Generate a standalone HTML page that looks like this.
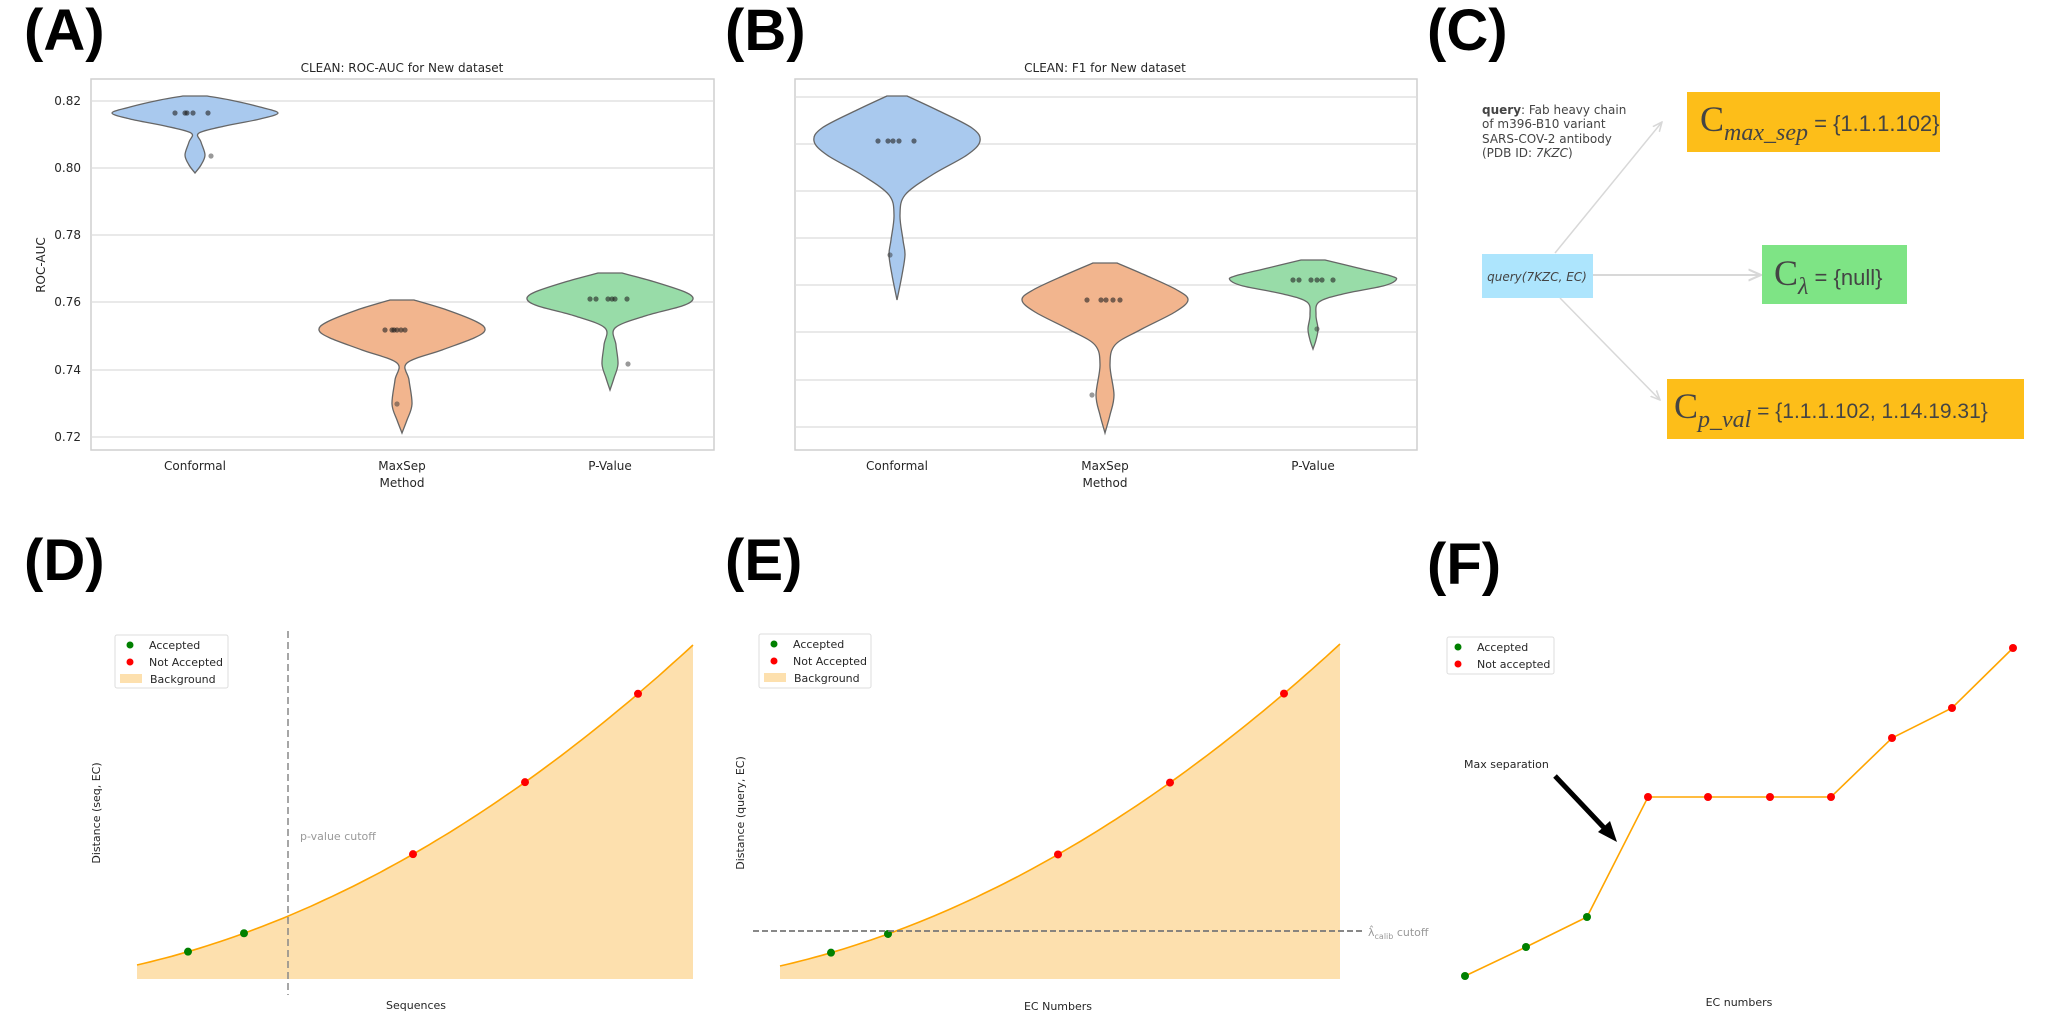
<!DOCTYPE html>
<html><head><meta charset="utf-8">
<style>
html,body{margin:0;padding:0;background:#fff;}
svg{display:block;}
text{font-family:"DejaVu Sans","Liberation Sans",sans-serif;fill:#262626;}
.lab{font-family:"Liberation Sans",sans-serif;font-weight:bold;font-size:58px;fill:#000;}
</style></head>
<body>
<svg id="s" width="2050" height="1012" viewBox="0 0 2050 1012" xmlns="http://www.w3.org/2000/svg">
<defs>
<marker id="ah" viewBox="0 0 10 10" refX="9" refY="5" markerWidth="7" markerHeight="7" orient="auto"><path d="M0,1 L9,5 L0,9" fill="none" stroke="#d8d8d8" stroke-width="1.5"/></marker>
</defs>
<text class="lab" x="24" y="50">(A)</text>
<text class="lab" x="725" y="50">(B)</text>
<text class="lab" x="1427" y="50">(C)</text>
<text class="lab" x="24" y="580">(D)</text>
<text class="lab" x="725" y="580">(E)</text>
<text class="lab" x="1427" y="584">(F)</text>

<g id="A">
<rect x="91" y="79" width="623" height="371" fill="none" stroke="#cfcfcf" stroke-width="1.5"/>
<g stroke="#dcdcdc" stroke-width="1.3">
<line x1="91" x2="714" y1="101" y2="101"/><line x1="91" x2="714" y1="168" y2="168"/>
<line x1="91" x2="714" y1="235" y2="235"/><line x1="91" x2="714" y1="302" y2="302"/>
<line x1="91" x2="714" y1="370" y2="370"/><line x1="91" x2="714" y1="437" y2="437"/>
</g>
<g font-size="12" text-anchor="end">
<text x="81" y="105">0.82</text><text x="81" y="172">0.80</text><text x="81" y="239">0.78</text>
<text x="81" y="306">0.76</text><text x="81" y="374">0.74</text><text x="81" y="441">0.72</text>
</g>
<text x="402" y="72" font-size="12" text-anchor="middle">CLEAN: ROC-AUC for New dataset</text>
<text transform="translate(45,265) rotate(-90)" font-size="12" text-anchor="middle">ROC-AUC</text>
<g font-size="12" text-anchor="middle">
<text x="195" y="470">Conformal</text><text x="402" y="470">MaxSep</text><text x="610" y="470">P-Value</text>
<text x="402" y="487">Method</text>
</g>
</g>

<g id="B">
<rect x="795" y="79" width="622" height="371" fill="none" stroke="#cfcfcf" stroke-width="1.5"/>
<g stroke="#dcdcdc" stroke-width="1.3">
<line x1="795" x2="1417" y1="97" y2="97"/><line x1="795" x2="1417" y1="144" y2="144"/>
<line x1="795" x2="1417" y1="191" y2="191"/><line x1="795" x2="1417" y1="238" y2="238"/>
<line x1="795" x2="1417" y1="285" y2="285"/><line x1="795" x2="1417" y1="332" y2="332"/>
<line x1="795" x2="1417" y1="380" y2="380"/><line x1="795" x2="1417" y1="427" y2="427"/>
</g>
<text x="1105" y="72" font-size="12" text-anchor="middle">CLEAN: F1 for New dataset</text>
<g font-size="12" text-anchor="middle">
<text x="897" y="470">Conformal</text><text x="1105" y="470">MaxSep</text><text x="1313" y="470">P-Value</text>
<text x="1105" y="487">Method</text>
</g>
</g>
<g id="violins"></g>

<g id="C">
<text x="1482" y="114" font-size="12" style="fill:#444"><tspan font-weight="bold">query</tspan>: Fab heavy chain</text>
<text x="1482" y="128" font-size="12" style="fill:#444">of m396-B10 variant</text>
<text x="1482" y="143" font-size="12" style="fill:#444">SARS-COV-2 antibody</text>
<text x="1482" y="157" font-size="12" style="fill:#444">(PDB ID: <tspan font-style="italic">7KZC</tspan>)</text>
<line x1="1555" y1="253" x2="1662" y2="122" stroke="#d8d8d8" stroke-width="1.5" marker-end="url(#ah)"/>
<line x1="1593" y1="275" x2="1761" y2="275" stroke="#d8d8d8" stroke-width="2" marker-end="url(#ah)"/>
<line x1="1560" y1="298" x2="1660" y2="400" stroke="#d8d8d8" stroke-width="1.5" marker-end="url(#ah)"/>
<rect x="1482" y="254" width="111" height="44" fill="#ade5fd"/>
<text x="1537" y="281" font-size="12" font-style="italic" text-anchor="middle" style="fill:#444">query(7KZC, EC)</text>
<rect x="1687" y="92" width="253" height="60" fill="#fdbe19"/>
<text x="1700" y="131" style="fill:#444;font-family:'Liberation Serif',serif" font-size="36">C<tspan font-size="24" font-style="italic" dy="9">max_sep</tspan><tspan font-size="22" dy="-9" style="font-family:'Liberation Sans',sans-serif"> = {1.1.1.102}</tspan></text>
<rect x="1762" y="245" width="145" height="59" fill="#7ee485"/>
<text x="1774" y="285" style="fill:#444;font-family:'Liberation Serif',serif" font-size="36">C<tspan font-size="24" font-style="italic" dy="9">λ</tspan><tspan font-size="22" dy="-9" style="font-family:'Liberation Sans',sans-serif"> = {null}</tspan></text>
<rect x="1667" y="379" width="357" height="60" fill="#fdbe19"/>
<text x="1674" y="418" style="fill:#444;font-family:'Liberation Serif',serif" font-size="36">C<tspan font-size="24" font-style="italic" dy="9">p_val</tspan><tspan font-size="21" dy="-9" style="font-family:'Liberation Sans',sans-serif"> = {1.1.1.102, 1.14.19.31}</tspan></text>
</g>

<g id="curves"></g>

<line x1="288" y1="631" x2="288" y2="995" stroke="#888" stroke-width="1.5" stroke-dasharray="7,4"/>
<text x="300" y="840" font-size="11" style="fill:#999">p-value cutoff</text>
<text transform="translate(100,813) rotate(-90)" font-size="11" text-anchor="middle">Distance (seq, EC)</text>
<text x="416" y="1009" font-size="11" text-anchor="middle">Sequences</text>
<g>
<rect x="115" y="635" width="113" height="53" fill="#fff" stroke="#ddd" rx="2"/>
<circle cx="130" cy="645" r="3.5" fill="green"/><text x="149" y="649" font-size="11">Accepted</text>
<circle cx="130" cy="662" r="3.5" fill="red"/><text x="149" y="666" font-size="11">Not Accepted</text>
<rect x="120" y="674" width="22" height="9" fill="#fde0ae"/><text x="150" y="683" font-size="11">Background</text>
</g>
<line x1="753" y1="931" x2="1365" y2="931" stroke="#777" stroke-width="1.8" stroke-dasharray="6,3"/>
<text x="1368" y="936" font-size="11" style="fill:#999">λ̂<tspan font-size="8" dy="3">calib</tspan><tspan dy="-3"> cutoff</tspan></text>
<text transform="translate(744,813) rotate(-90)" font-size="11" text-anchor="middle">Distance (query, EC)</text>
<text x="1058" y="1010" font-size="11" text-anchor="middle">EC Numbers</text>
<g>
<rect x="759" y="634" width="112" height="54" fill="#fff" stroke="#ddd" rx="2"/>
<circle cx="774" cy="644" r="3.5" fill="green"/><text x="793" y="648" font-size="11">Accepted</text>
<circle cx="774" cy="661" r="3.5" fill="red"/><text x="793" y="665" font-size="11">Not Accepted</text>
<rect x="764" y="673" width="22" height="9" fill="#fde0ae"/><text x="794" y="682" font-size="11">Background</text>
</g>
<polyline points="1465,976 1526,947 1587,917 1648,797 1708,797 1770,797 1831,797 1892,738 1952,708 2013,648" fill="none" stroke="orange" stroke-width="1.6"/>
<g fill="green"><circle cx="1465" cy="976" r="4"/><circle cx="1526" cy="947" r="4"/><circle cx="1587" cy="917" r="4"/></g>
<g fill="red"><circle cx="1648" cy="797" r="4"/><circle cx="1708" cy="797" r="4"/><circle cx="1770" cy="797" r="4"/><circle cx="1831" cy="797" r="4"/><circle cx="1892" cy="738" r="4"/><circle cx="1952" cy="708" r="4"/><circle cx="2013" cy="648" r="4"/></g>
<rect x="1447" y="637" width="107" height="37" fill="#fff" stroke="#ddd" rx="2"/>
<circle cx="1458" cy="647" r="3.5" fill="green"/><text x="1477" y="651" font-size="11">Accepted</text>
<circle cx="1458" cy="664" r="3.5" fill="red"/><text x="1477" y="668" font-size="11">Not accepted</text>
<text x="1464" y="768" font-size="11">Max separation</text>
<line x1="1555" y1="776" x2="1608" y2="832" stroke="#000" stroke-width="5"/>
<polygon points="1617,842 1598,832 1610,821" fill="#000"/>
<text x="1739" y="1006" font-size="11" text-anchor="middle">EC numbers</text>
</svg>
<script>
(function(){
var NS="http://www.w3.org/2000/svg";
function el(p,n,a){var e=document.createElementNS(NS,n);for(var k in a)e.setAttribute(k,a[k]);p.appendChild(e);return e;}
function smooth(pts){
 var d="M"+pts[0][0]+","+pts[0][1];
 for(var i=0;i<pts.length-1;i++){
  var p0=pts[Math.max(i-1,0)],p1=pts[i],p2=pts[i+1],p3=pts[Math.min(i+2,pts.length-1)];
  var c1=[p1[0]+(p2[0]-p0[0])/6,p1[1]+(p2[1]-p0[1])/6],c2=[p2[0]-(p3[0]-p1[0])/6,p2[1]-(p3[1]-p1[1])/6];
  d+=" C"+c1[0].toFixed(1)+","+c1[1].toFixed(1)+" "+c2[0].toFixed(1)+","+c2[1].toFixed(1)+" "+p2[0]+","+p2[1];
 }
 return d;
}
var g=document.getElementById("violins");
function violin(cx,prof,col,dotsY,dotsX,out){
 var r=prof.map(function(p){return [cx+p[1],p[0]];});
 var l=prof.slice().reverse().map(function(p){return [cx-p[1],p[0]];});
 var d=smooth(r)+" L"+l[0][0]+","+l[0][1]+smooth(l).replace(/^M[^C]*/," ")+" Z";
 el(g,"path",{d:d,fill:col,stroke:"#666",'stroke-width':1.3});
 dotsX.forEach(function(x){el(g,"circle",{cx:x,cy:dotsY,r:2.6,fill:"#222","fill-opacity":0.6});});
 el(g,"circle",{cx:out[0],cy:out[1],r:2.6,fill:"#333","fill-opacity":0.5});
}
var B="#a9c9ee",O="#f2b58e",G="#98dca8";
violin(195,[[96,12],[100,35],[107,65],[113,83],[119,65],[126,30],[133,4],[142,6],[155,10],[165,6],[173,0]],B,113,[175,185,187,193,208],[211,156]);
violin(402,[[300,12],[310,45],[322,75],[330,83],[338,72],[350,40],[363,5],[380,7],[404,10],[420,5],[433,0]],O,330,[385,392,394,397,401,405],[397,404]);
violin(610,[[273,12],[282,45],[292,75],[299,83],[306,72],[316,35],[328,5],[345,6],[364,8],[378,4],[390,0]],G,299,[590,596,608,612,615,627],[628,364]);
violin(897,[[96,10],[110,40],[128,75],[141,83],[155,70],[175,35],[195,8],[215,3],[240,6],[255,8],[275,5],[300,0]],B,141,[878,888,893,899,914],[890,255]);
violin(1105,[[263,12],[275,40],[290,72],[300,83],[312,70],[330,35],[345,10],[365,5],[395,9],[415,5],[433,0]],O,300,[1087,1101,1106,1113,1120],[1092,395]);
violin(1313,[[260,12],[268,45],[276,78],[280,83],[286,70],[294,30],[302,6],[315,3],[329,5],[340,3],[349,0]],G,280,[1293,1299,1311,1317,1322,1333],[1317,329]);
var c=document.getElementById("curves");
function curve(x0,x1,y0,y1,yb,greens,reds){
 var pts=[];for(var i=0;i<=80;i++){var t=i/80;var f=0.4*t+0.6*t*t;pts.push([(x0+(x1-x0)*t).toFixed(1),(y0-(y0-y1)*f).toFixed(1)]);}
 var line=pts.map(function(p){return p.join(",");}).join(" ");
 el(c,"polygon",{points:line+" "+x1+","+yb+" "+x0+","+yb,fill:"#fde0ae"});
 el(c,"polyline",{points:line,fill:"none",stroke:"orange","stroke-width":1.6});
 function on(x){var t=(x-x0)/(x1-x0);return y0-(y0-y1)*(0.4*t+0.6*t*t);}
 greens.forEach(function(x){el(c,"circle",{cx:x,cy:on(x),r:4,fill:"green"});});
 reds.forEach(function(x){el(c,"circle",{cx:x,cy:on(x),r:4,fill:"red"});});
}
curve(137,693,965,645,979,[188,244],[413,525,638]);
curve(780,1340,966,644,979,[831,888],[1058,1170,1284]);
})();
</script>
</body></html>
